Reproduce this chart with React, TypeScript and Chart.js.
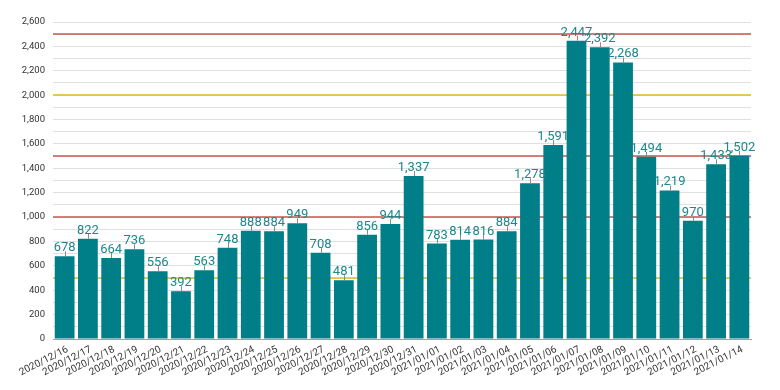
import React, { useEffect, useRef } from "react";
import { Chart, registerables } from "chart.js";

Chart.register(...registerables);

const categories = [
  "2020/12/16", "2020/12/17", "2020/12/18", "2020/12/19", "2020/12/20", "2020/12/21",
  "2020/12/22", "2020/12/23", "2020/12/24", "2020/12/25", "2020/12/26", "2020/12/27",
  "2020/12/28", "2020/12/29", "2020/12/30", "2020/12/31", "2021/01/01", "2021/01/02",
  "2021/01/03", "2021/01/04", "2021/01/05", "2021/01/06", "2021/01/07", "2021/01/08",
  "2021/01/09", "2021/01/10", "2021/01/11", "2021/01/12", "2021/01/13", "2021/01/14",
];

const values = [
  678, 822, 664, 736, 556, 392, 563, 748, 888, 884, 949, 708, 481, 856, 944, 1337,
  783, 814, 816, 884, 1278, 1591, 2447, 2392, 2268, 1494, 1219, 970, 1433, 1502,
];

const redLines = [2500, 1500, 1000];
const yellowLines = [2000, 500];

const fmt = (v: number) => Math.round(v).toLocaleString("en-US");

const overlayPlugin = {
  id: "overlay",
  beforeDatasetsDraw(chart: any) {
    const { ctx, chartArea, scales } = chart;
    ctx.save();
    ctx.lineWidth = 1.5;
    const draw = (v: number, color: string) => {
      const y = Math.round(scales.y.getPixelForValue(v));
      ctx.strokeStyle = color;
      ctx.beginPath();
      ctx.moveTo(chartArea.left, y);
      ctx.lineTo(chartArea.right, y);
      ctx.stroke();
    };
    redLines.forEach((v) => draw(v, "#c9574f"));
    yellowLines.forEach((v) => draw(v, "#e8b923"));
    ctx.restore();
  },
  afterDatasetsDraw(chart: any) {
    const { ctx, scales } = chart;
    const meta = chart.getDatasetMeta(0);
    ctx.save();
    meta.data.forEach((bar: any, i: number) => {
      const x = Math.round(bar.x) + 0.5;
      const y = bar.y;
      ctx.strokeStyle = "#8a8a8a";
      ctx.lineWidth = 1;
      ctx.beginPath();
      ctx.moveTo(x, y);
      ctx.lineTo(x, y - 5);
      ctx.stroke();
      ctx.fillStyle = "#1c878c";
      ctx.font = "13px Roboto";
      ctx.textAlign = "center";
      ctx.textBaseline = "alphabetic";
      ctx.fillText(fmt(values[i]), bar.x, y - 5);
    });
    // x-axis category labels, rotated
    const xs = scales.x;
    ctx.fillStyle = "#333";
    ctx.font = "10px Roboto";
    ctx.textAlign = "right";
    ctx.textBaseline = "middle";
    categories.forEach((c, i) => {
      const px = xs.getPixelForTick(i);
      ctx.save();
      ctx.translate(px + 3, xs.top + 10);
      ctx.rotate((-27 * Math.PI) / 180);
      ctx.fillText(c, 0, 0);
      ctx.restore();
    });
    ctx.restore();
  },
};

export default function App() {
  const ref = useRef<HTMLCanvasElement>(null);
  useEffect(() => {
    document.body.style.margin = "0";
    const chart = new Chart(ref.current!, {
      type: "bar",
      data: {
        labels: categories,
        datasets: [
          {
            data: values,
            backgroundColor: "#007f88",
            barPercentage: 0.85,
            categoryPercentage: 1,
          },
        ],
      },
      options: {
        animation: false,
        responsive: false,
        layout: { padding: { top: 22, right: 29, left: 0, bottom: 0 } },
        plugins: { legend: { display: false }, tooltip: { enabled: false } },
        scales: {
          x: {
            grid: { display: false, drawTicks: false },
            border: { color: "#a0a0a0" },
            ticks: { display: false },
            afterFit: (s: any) => {
              s.height = 51;
            },
          },
          y: {
            min: 0,
            max: 2600,
            border: { display: false },
            grid: { color: "#e0e0e0", drawTicks: false },
            afterFit: (s: any) => {
              s.width = 53;
            },
            ticks: {
              stepSize: 100,
              autoSkip: false,
              color: "#333",
              padding: 8,
              font: { family: "Roboto", size: 9.5 },
              callback: (v: any) => (Math.round(Number(v)) % 200 === 0 ? fmt(Number(v)) : ""),
            },
          },
        },
      },
      plugins: [overlayPlugin],
    });
    return () => chart.destroy();
  }, []);
  return (
    <div style={{ width: 780, height: 390 }}>
      <canvas ref={ref} width={780} height={390} />
    </div>
  );
}
